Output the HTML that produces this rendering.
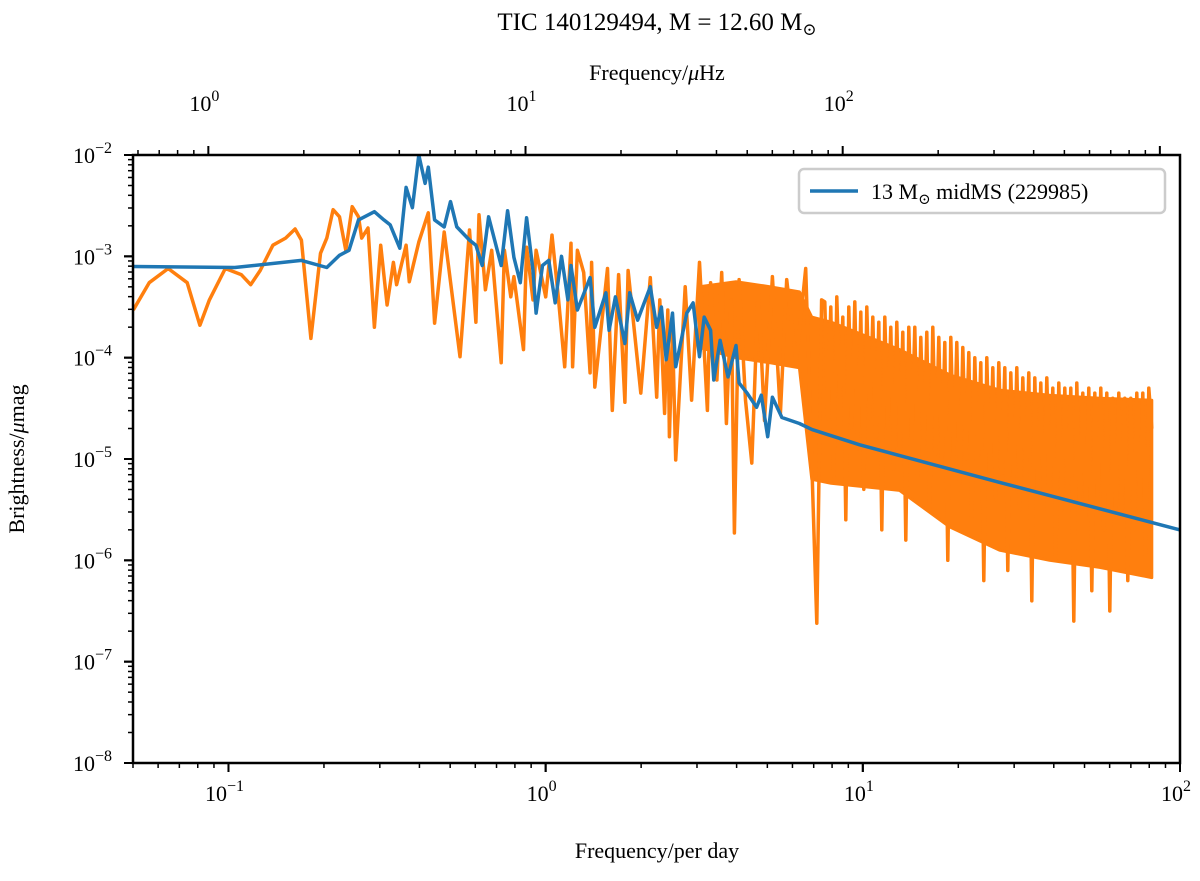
<!DOCTYPE html>
<html><head><meta charset="utf-8"><style>
body{margin:0;background:#fff;}
svg text{font-family:"Liberation Serif","DejaVu Serif",serif;fill:#000;}
</style></head><body>
<svg id="chart" width="1200" height="876" viewBox="0 0 1200 876" xmlns="http://www.w3.org/2000/svg">
<g id="marks"></g>
<g id="axes"></g>
<text x="657" y="30" font-size="25" text-anchor="middle">TIC 140129494, M = 12.60 M<tspan font-size="17" dy="5">⊙</tspan></text>
<text x="657" y="80" font-size="22" text-anchor="middle">Frequency/<tspan font-style="italic">μ</tspan>Hz</text>
<text x="657" y="858" font-size="22" text-anchor="middle">Frequency/per day</text>
<text x="24" y="459" font-size="22" text-anchor="middle" transform="rotate(-90 24 459)">Brightness/<tspan font-style="italic">μ</tspan>mag</text>
<g>
<rect x="799" y="169" width="366" height="44" rx="5" fill="#fff" stroke="#ccc" stroke-width="2.5"/>
<line x1="810" y1="191" x2="858" y2="191" stroke="#1f77b4" stroke-width="3.5"/>
<text x="871" y="199" font-size="22">13 M<tspan font-size="15" dy="5">⊙</tspan><tspan dy="-5"> midMS (229985)</tspan></text>
</g>
</svg>
<script>
// x axis: log10(frequency per day); y axis: log10(amplitude)
const xTicksMajor = [-1, 0, 1, 2];
const yTicksMajor = [-2, -3, -4, -5, -6, -7, -8];
const topTicksMajor = [0, 1, 2];
const blueLogF = [-1.30,-0.98,-0.77,-0.69,-0.65,-0.62,-0.59,-0.54,-0.51,-0.49,-0.46,-0.44,-0.42,-0.40,-0.38,-0.37,-0.35,-0.32,-0.30,-0.28,-0.24,-0.22,-0.20,-0.18,-0.14,-0.12,-0.10,-0.08,-0.06,-0.04,-0.03,-0.01,0.01,0.03,0.05,0.07,0.08,0.10,0.14,0.155,0.19,0.20,0.22,0.25,0.265,0.29,0.33,0.35,0.365,0.38,0.40,0.41,0.445,0.465,0.485,0.50,0.52,0.53,0.55,0.575,0.60,0.61,0.635,0.665,0.68,0.70,0.715,0.745,0.80,0.84,0.99,1.43,2.00];
const blueLogA = [-3.10,-3.11,-3.04,-3.11,-2.99,-2.94,-2.64,-2.56,-2.64,-2.69,-2.92,-2.32,-2.52,-2.00,-2.28,-2.12,-2.64,-2.71,-2.46,-2.71,-2.84,-2.89,-3.09,-2.61,-3.09,-2.55,-3.01,-3.26,-2.62,-3.14,-3.56,-3.09,-3.04,-3.46,-3.00,-3.43,-3.09,-3.53,-3.21,-3.70,-3.36,-3.73,-3.40,-3.86,-3.36,-3.63,-3.30,-3.70,-3.50,-4.02,-3.56,-4.09,-3.56,-3.46,-3.99,-3.60,-3.73,-4.22,-3.83,-4.19,-3.88,-4.25,-4.35,-4.49,-4.37,-4.78,-4.39,-4.59,-4.65,-4.71,-4.86,-5.23,-5.70];
const orangeLogF = [-1.30,-1.25,-1.19,-1.13,-1.09,-1.06,-1.01,-0.96,-0.93,-0.90,-0.86,-0.82,-0.79,-0.77,-0.74,-0.71,-0.69,-0.67,-0.65,-0.63,-0.61,-0.59,-0.58,-0.56,-0.54,-0.52,-0.50,-0.48,-0.47,-0.44,-0.43,-0.40,-0.37,-0.35,-0.32,-0.27,-0.24,-0.22,-0.21,-0.19,-0.17,-0.14,-0.13,-0.11,-0.10,-0.07,-0.06,-0.04,-0.03,0.00,0.02,0.04,0.06,0.08,0.085,0.10,0.12,0.14,0.145,0.155,0.195,0.21,0.23,0.25,0.26,0.30,0.33,0.35,0.36,0.375,0.385,0.39,0.40,0.41,0.44,0.46,0.485,0.51,0.52,0.54,0.555,0.57,0.585,0.595,0.61,0.63,0.65,0.67,0.69,0.715,0.74,0.76,0.79,0.82,0.84,0.855,0.87];
const orangeLogA = [-3.53,-3.26,-3.12,-3.26,-3.68,-3.43,-3.12,-3.18,-3.28,-3.14,-2.89,-2.82,-2.73,-2.84,-3.81,-2.97,-2.82,-2.54,-2.61,-2.94,-2.51,-2.61,-2.82,-2.72,-3.70,-2.89,-3.48,-3.06,-3.28,-2.89,-3.25,-2.86,-2.57,-3.66,-2.76,-3.99,-2.74,-3.65,-2.59,-3.33,-2.94,-4.05,-2.94,-3.40,-3.20,-3.92,-2.91,-3.43,-2.94,-3.40,-2.79,-3.40,-4.09,-2.87,-4.09,-2.94,-3.16,-4.15,-3.06,-4.29,-3.12,-4.52,-3.18,-4.44,-3.14,-4.35,-3.21,-4.39,-3.43,-4.55,-3.53,-4.78,-3.73,-5.01,-3.30,-4.42,-3.06,-4.52,-3.26,-4.22,-3.16,-4.65,-3.43,-5.73,-3.23,-4.42,-5.04,-3.33,-4.62,-3.20,-4.55,-3.23,-4.05,-3.12,-5.14,-6.62,-3.43];
// dense high-frequency section, from 7.6 to 81.5 per day
const denseStartLogF = 0.88;
const denseEndLogF = 1.911;
const orangeDenseLogA = [-3.45,-4.6,-3.5,-5.2,-3.4,-4.4,-3.6,-5.6,-3.5,-4.7,-3.45,-4.9,-3.55,-5.3,-3.5,-4.6,
-3.6,-4.8,-3.65,-5.7,-3.6,-4.7,-3.7,-5.1,-3.65,-4.9,-3.75,-5.8,-3.7,-4.8,-3.7,-5.2,-3.8,-4.9,-3.75,-5.5,-3.7,-4.95,-3.8,-5.1,-3.85,-6.0,-3.8,-5.0,-3.85,-5.3,-3.9,
-5.0,-3.95,-5.6,-4.0,-5.1,-4.05,-6.2,-4.0,-5.2,-4.1,-5.4,-4.05,-5.15,-4.1,-6.1,-4.15,-5.3,-4.1,-5.5,-4.2,-5.2,-4.15,-6.4,-4.2,-5.35,-4.25,-5.5,-4.2,-5.3,-4.3,-6.0,
-4.25,-5.5,-4.3,-5.35,-4.3,-6.6,-4.25,-5.5,-4.35,-5.6,-4.3,-6.3,-4.35,-5.45,-4.3,-5.7,-4.35,-6.5,-4.4,-5.6,-4.35,-5.5,-4.4,-6.2,-4.4,-5.7,-4.35,-5.6,-4.35,-6.0,-4.3,-4.7];
// envelope of the densely oscillating (visually solid) region
const bandLogF = [0.485,0.60,0.706,0.80,0.839,0.90,1.116,1.274,1.431,1.589,1.747,1.911];
const bandUpper = [-3.3,-3.25,-3.3,-3.35,-3.6,-3.65,-3.92,-4.17,-4.32,-4.37,-4.4,-4.42];
const bandLower = [-3.9,-4.0,-4.05,-4.1,-5.2,-5.24,-5.31,-5.67,-5.9,-6.0,-6.07,-6.17];

const L=133,R=1180,T=155,B=763;
const xMin=Math.log10(0.05), xMax=2;
function X(lf){return L+(lf-xMin)/(xMax-xMin)*(R-L);}
function Y(la){return T+(-2-la)/6*(B-T);}
const muHzPerDay=1e6/86400;
function Xmu(lmu){return X(lmu-Math.log10(muHzPerDay));}
const NS="http://www.w3.org/2000/svg";
const marks=document.getElementById('marks'), axes=document.getElementById('axes');
function mk(tag,attrs,parent){const e=document.createElementNS(NS,tag);for(const k in attrs)e.setAttribute(k,attrs[k]);parent.appendChild(e);return e;}

const clip=mk('clipPath',{id:'pc'},marks);mk('rect',{x:L,y:T,width:R-L,height:B-T},clip);
let dbnd='';
for(let i=0;i<bandLogF.length;i++) dbnd+=(i?'L':'M')+X(bandLogF[i]).toFixed(1)+' '+Y(bandUpper[i]).toFixed(1);
for(let i=bandLogF.length-1;i>=0;i--) dbnd+='L'+X(bandLogF[i]).toFixed(1)+' '+Y(bandLower[i]).toFixed(1);
dbnd+='Z';
const band=mk('path',{d:dbnd,fill:'#ff7f0e',stroke:'#ff7f0e','stroke-width':3,'stroke-linejoin':'round','clip-path':'url(#pc)'},marks);


let d='';
for(let i=0;i<orangeLogF.length;i++) d+=(i?'L':'M')+X(orangeLogF[i]).toFixed(1)+' '+Y(orangeLogA[i]).toFixed(1);
const n=orangeDenseLogA.length;
for(let i=0;i<n;i++){const lf=denseStartLogF+(denseEndLogF-denseStartLogF)*i/(n-1);d+='L'+X(lf).toFixed(1)+' '+Y(orangeDenseLogA[i]).toFixed(1);}
const op=mk('path',{d:d,fill:'none',stroke:'#ff7f0e','stroke-width':3.5,'stroke-linejoin':'round','clip-path':'url(#pc)'},marks);


let db='';
for(let i=0;i<blueLogF.length;i++) db+=(i?'L':'M')+X(blueLogF[i]).toFixed(1)+' '+Y(blueLogA[i]).toFixed(1);
const bp=mk('path',{d:db,fill:'none',stroke:'#1f77b4','stroke-width':3.5,'stroke-linejoin':'round','clip-path':'url(#pc)'},marks);



const fr=mk('rect',{x:L,y:T,width:R-L,height:B-T,fill:'none',stroke:'#000','stroke-width':2.5},axes);


function tickLabel(x,y,exp,anchor){
  const t=mk('text',{x:x,y:y,'font-size':22,'text-anchor':anchor},axes);
  
  
  t.textContent='10';
  const s=mk('tspan',{dy:-10,'font-size':16},t);s.textContent=String(exp).replace('-','−');
}
// bottom
for(let e=-2;e<=1;e++)for(let m=1;m<10;m++){const lf=e+Math.log10(m);if(lf<xMin-1e-9||lf>xMax)continue;const x=X(lf);
  mk('line',{x1:x,y1:B,x2:x,y2:B+(m==1?9:5),stroke:'#000','stroke-width':m==1?2:1.5},axes);}
xTicksMajor.forEach(e=>{const x=X(e);mk('line',{x1:x,y1:B,x2:x,y2:B+9,stroke:'#000','stroke-width':2},axes);tickLabel(x-4,801,e,'middle');});
// top (muHz)
for(let e=-1;e<=3;e++)for(let m=1;m<10;m++){const lm=e+Math.log10(m);const x=Xmu(lm);if(x<L-0.5||x>R+0.5)continue;
  mk('line',{x1:x,y1:T,x2:x,y2:T-(m==1?9:5),stroke:'#000','stroke-width':m==1?2:1.5},axes);}
topTicksMajor.forEach(e=>{tickLabel(Xmu(e)-4,111,e,'middle');});
// left
for(let e=-8;e<-2;e++)for(let m=1;m<10;m++){const y=Y(e+Math.log10(m));
  mk('line',{x1:L,y1:y,x2:L-(m==1?9:5),y2:y,stroke:'#000','stroke-width':m==1?2:1.5},axes);}
yTicksMajor.forEach(e=>{const y=Y(e);mk('line',{x1:L,y1:y,x2:L-9,y2:y,stroke:'#000','stroke-width':2},axes);tickLabel(112,y+8,e,'end');});
</script>
</body></html>
